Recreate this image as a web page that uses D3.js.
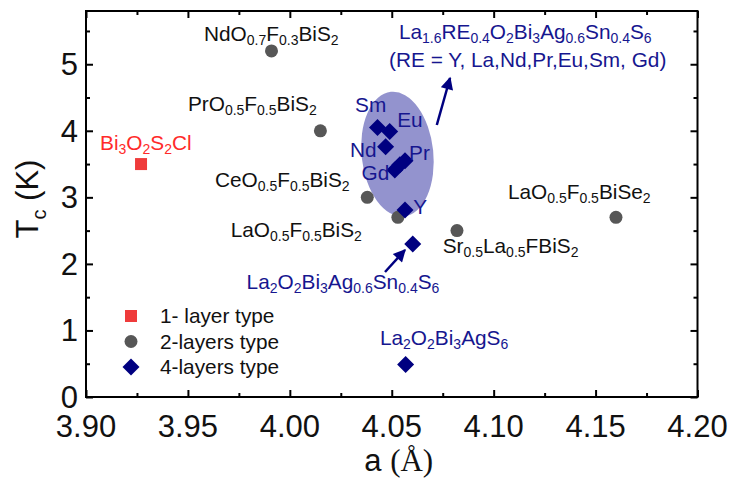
<!DOCTYPE html>
<html><head><meta charset="utf-8">
<script src="https://cdn.jsdelivr.net/npm/d3@7"></script>
<style>
body{margin:0;background:#fff}
svg{display:block}
text{font-family:"Liberation Sans",Arial,sans-serif}
</style>
</head><body>
<svg id="chart" width="732" height="479"></svg>
<script>
// ---- data: lattice parameter a (Å) vs superconducting Tc (K) ----
const oneLayerA  = [3.927];
const oneLayerTc = [3.5];

const twoLayerA  = [3.991, 4.015, 4.038, 4.053, 4.082, 4.160];
const twoLayerTc = [5.2, 4.0, 3.0, 2.7, 2.5, 2.7];

// Sm, Eu, Nd, Gd, La, Pr, Y substituted; then Ag0.6Sn0.4 and Ag parents
const fourLayerA  = [4.043, 4.049, 4.047, 4.0515, 4.054, 4.0565, 4.0565, 4.0603, 4.0568];
const fourLayerTc = [4.05, 3.99, 3.76, 3.41, 3.49, 3.55, 2.81, 2.30, 0.49];

const xTicks = [3.90, 3.95, 4.00, 4.05, 4.10, 4.15, 4.20];
const yTicks = [0, 1, 2, 3, 4, 5];

const legendNames = ["1- layer type", "2-layers type", "4-layers type"];

// text annotations: label text, series group, anchor (a, Tc) of text start/baseline
const labelTexts = [
  "Bi_{3}O_{2}S_{2}Cl",
  "NdO_{0.7}F_{0.3}BiS_{2}",
  "PrO_{0.5}F_{0.5}BiS_{2}",
  "CeO_{0.5}F_{0.5}BiS_{2}",
  "LaO_{0.5}F_{0.5}BiS_{2}",
  "Sr_{0.5}La_{0.5}FBiS_{2}",
  "LaO_{0.5}F_{0.5}BiSe_{2}",
  "La_{1.6}RE_{0.4}O_{2}Bi_{3}Ag_{0.6}Sn_{0.4}S_{6}",
  "(RE = Y, La,Nd,Pr,Eu,Sm, Gd)",
  "La_{2}O_{2}Bi_{3}Ag_{0.6}Sn_{0.4}S_{6}",
  "La_{2}O_{2}Bi_{3}AgS_{6}",
  "Sm", "Eu", "Nd", "Pr", "Gd", "Y"
];
const labelGroups = [1, 2, 2, 2, 2, 2, 2, 4, 4, 4, 4, 4, 4, 4, 4, 4, 4];
const labelA  = [3.9069, 3.9579, 3.9500, 3.9633, 3.9710, 4.0750, 4.1070, 4.0535, 4.0487, 3.9788, 4.0442,
                 4.0320, 4.0527, 4.0295, 4.0585, 4.0352, 4.0605];
const labelTc = [3.711, 5.349, 4.302, 3.160, 2.409, 2.164, 2.975, 5.372, 4.959, 1.630, 0.781,
                 4.278, 4.052, 3.611, 3.561, 3.260, 2.745];

// arrows: [a0, Tc0, a1, Tc1]
const arrowFrom = [[4.0721, 4.087], [4.0467, 1.878]];
const arrowTo   = [[4.0786, 4.793], [4.0565, 2.209]];

// highlighted RE-substituted cluster: centre, semi-axes (data units)
const clusterCentre = [4.0528, 3.65];
const clusterRadii  = [0.0176, 0.94];

// ---- drawing ----
const W = 732, H = 479;
const margin = {left: 86, right: 34.5, top: 11, bottom: 82};
const svg = d3.select("#chart");

const x = d3.scaleLinear().domain([3.9, 4.2]).range([margin.left, W - margin.right]);
const y = d3.scaleLinear().domain([0, 5.8]).range([H - margin.bottom, margin.top]);

const navy = "#000080", navyText = "#16168f", gray = "#575757", red = "#ef3b3b";
const groupColour = {1: "#ff2a2a", 2: "#111", 4: navyText};

const FS = 20.8, SUB = 14, SHIFT = 4;
function rich(sel, str) {
  const parts = str.split(/(_\{[^}]*\})/).filter(s => s.length);
  let sub = false;
  parts.forEach(p => {
    const isSub = p.startsWith("_{");
    const t = sel.append("tspan").text(isSub ? p.slice(2, -1) : p)
      .attr("font-size", isSub ? SUB : FS);
    if (isSub && !sub) t.attr("dy", SHIFT);
    if (!isSub && sub) t.attr("dy", -SHIFT);
    sub = isSub;
  });
}

// cluster ellipse
const ecx = x(clusterCentre[0]), ecy = y(clusterCentre[1]);
svg.append("ellipse")
  .attr("cx", ecx).attr("cy", ecy)
  .attr("rx", x(clusterCentre[0] + clusterRadii[0]) - ecx)
  .attr("ry", ecy - y(clusterCentre[1] + clusterRadii[1]))
  .attr("transform", `rotate(-6 ${ecx} ${ecy})`)
  .attr("fill", "#3a3aa6").attr("fill-opacity", 0.55);

// axes frame and ticks (all pointing inwards, on all four sides)
const g = svg.append("g");
const yMinor = d3.range(0.5, 5.8, 1);
const xMinor = d3.range(3.925, 4.2, 0.05);

function tickSet(axisGen, scale, values, len, pos) {
  const a = axisGen(scale).tickValues(values).tickSize(len).tickSizeOuter(0).tickFormat("");
  const gg = g.append("g").attr("transform", pos).call(a);
  gg.select(".domain").remove();
  gg.selectAll(".tick line").attr("stroke", "#000").attr("stroke-width", 2);
  return gg;
}
const L = margin.left, R = W - margin.right, T = margin.top, B = H - margin.bottom;
tickSet(d3.axisRight, y, yTicks, 7, `translate(${L},0)`);
tickSet(d3.axisRight, y, yMinor, 4, `translate(${L},0)`);
tickSet(d3.axisLeft, y, yTicks, 7, `translate(${R},0)`);
tickSet(d3.axisLeft, y, yMinor, 4, `translate(${R},0)`);
tickSet(d3.axisTop, x, xTicks, 7, `translate(0,${B})`);
tickSet(d3.axisTop, x, xMinor, 4, `translate(0,${B})`);
tickSet(d3.axisBottom, x, xTicks, 7, `translate(0,${T})`);
tickSet(d3.axisBottom, x, xMinor, 4, `translate(0,${T})`);

svg.append("rect").attr("x", L).attr("y", T).attr("width", R - L).attr("height", B - T)
  .attr("fill", "none").attr("stroke", "#000").attr("stroke-width", 2);

// tick labels
svg.append("g").selectAll("text").data(yTicks).join("text")
  .attr("x", L - 8).attr("y", d => y(d) + 11).attr("text-anchor", "end")
  .attr("font-size", 31).attr("fill", "#111").text(d => d);
svg.append("g").selectAll("text").data(xTicks).join("text")
  .attr("x", d => x(d)).attr("y", B + 40).attr("text-anchor", "middle")
  .attr("font-size", 31).attr("fill", "#111").text(d => d.toFixed(2));

// axis titles
const xt = svg.append("text").attr("x", (L + R) / 2 + 7).attr("y", 471)
  .attr("text-anchor", "middle").attr("font-size", 31).attr("fill", "#111");
xt.append("tspan").text("a ");
xt.append("tspan").attr("font-family", "'Liberation Serif',serif").text("(Å)");

const yt = svg.append("text").attr("transform", "translate(38,199) rotate(-90)")
  .attr("text-anchor", "middle").attr("font-size", 31).attr("fill", "#111");
yt.append("tspan").text("T");
yt.append("tspan").attr("font-size", 20).attr("dy", 8).text("c");
yt.append("tspan").attr("dy", -8).text(" (K)");

// arrows
const defs = svg.append("defs");
defs.append("marker").attr("id", "head").attr("viewBox", "0 0 10 10")
  .attr("refX", 9).attr("refY", 5).attr("markerWidth", 5.5).attr("markerHeight", 5)
  .attr("markerUnits", "strokeWidth").attr("orient", "auto")
  .append("path").attr("d", "M0,0L10,5L0,10z").attr("fill", navy);
svg.append("g").selectAll("line").data(d3.range(arrowFrom.length)).join("line")
  .attr("x1", i => x(arrowFrom[i][0])).attr("y1", i => y(arrowFrom[i][1]))
  .attr("x2", i => x(arrowTo[i][0])).attr("y2", i => y(arrowTo[i][1]))
  .attr("stroke", navy).attr("stroke-width", 2.5).attr("marker-end", "url(#head)");

// markers
const sq = 12, rc = 6.5, dm = 8.5;
svg.append("g").selectAll("rect").data(oneLayerA.map((a, i) => [a, oneLayerTc[i]])).join("rect")
  .attr("x", d => x(d[0]) - sq / 2).attr("y", d => y(d[1]) - sq / 2)
  .attr("width", sq).attr("height", sq).attr("fill", red);
svg.append("g").selectAll("circle").data(twoLayerA.map((a, i) => [a, twoLayerTc[i]])).join("circle")
  .attr("cx", d => x(d[0])).attr("cy", d => y(d[1])).attr("r", rc).attr("fill", gray);
const diamond = s => `M0,${-s}L${s},0L0,${s}L${-s},0Z`;
svg.append("g").selectAll("path").data(fourLayerA.map((a, i) => [a, fourLayerTc[i]])).join("path")
  .attr("transform", d => `translate(${x(d[0])},${y(d[1])})`)
  .attr("d", diamond(dm)).attr("fill", navy);

// labels
labelTexts.forEach((s, i) => {
  const t = svg.append("text").attr("x", x(labelA[i])).attr("y", y(labelTc[i]))
    .attr("fill", groupColour[labelGroups[i]]).attr("font-size", FS);
  rich(t, s);
});

// legend
const lg = svg.append("g");
const lx = 131, ly = [316, 341.5, 367];
lg.append("rect").attr("x", lx - 6).attr("y", ly[0] - 6).attr("width", 12).attr("height", 12).attr("fill", red);
lg.append("circle").attr("cx", lx).attr("cy", ly[1]).attr("r", 6.5).attr("fill", gray);
lg.append("path").attr("transform", `translate(${lx},${ly[2]})`).attr("d", diamond(8.5)).attr("fill", navy);
lg.selectAll("text").data(legendNames).join("text")
  .attr("x", 160).attr("y", (d, i) => ly[i] + 7).attr("font-size", FS).attr("fill", "#111").text(d => d);
</script>
</body></html>
